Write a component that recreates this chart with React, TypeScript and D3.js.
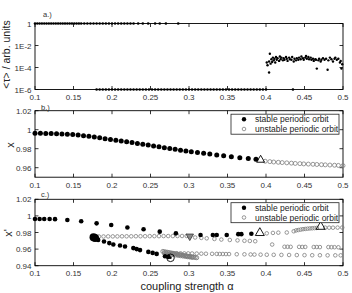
import * as d3 from "d3";

// coupling strength grid values
const alphaTicks = [0.1, 0.15, 0.2, 0.25, 0.3, 0.35, 0.4, 0.45, 0.5];
const alphaTickLabels = ["0.1", "0.15", "0.2", "0.25", "0.3", "0.35", "0.4", "0.45", "0.5"];

// panel a: mean tau, points pinned at 1 and at 1E-6, then the noisy part
const tauHighAlpha = [
  0.1, 0.103, 0.106, 0.109, 0.112, 0.115, 0.118, 0.121, 0.124, 0.127, 0.13, 0.133, 0.136, 0.139,
  0.142, 0.145, 0.148, 0.151, 0.154, 0.157, 0.16, 0.164, 0.168, 0.172, 0.176, 0.18, 0.184, 0.188,
  0.192, 0.196, 0.2, 0.204, 0.208, 0.212, 0.216, 0.22, 0.224, 0.228, 0.234, 0.24, 0.247, 0.256,
  0.262, 0.27, 0.286,
];
const tauLowAlpha = [
  0.18, 0.184, 0.188, 0.192, 0.196, 0.2, 0.204, 0.208, 0.212, 0.216, 0.22, 0.224, 0.228, 0.232,
  0.236, 0.24, 0.244, 0.248, 0.252, 0.256, 0.26, 0.264, 0.268, 0.272, 0.276, 0.28, 0.284, 0.288,
  0.292, 0.296, 0.3, 0.304, 0.308, 0.312, 0.316, 0.32, 0.324, 0.328, 0.332, 0.336, 0.34, 0.344,
  0.348, 0.352, 0.356, 0.36, 0.364, 0.368, 0.372, 0.376, 0.38, 0.384, 0.388, 0.392, 0.396, 0.4,
  0.435,
];
// [alpha, log10 <tau>]
const tauNoisy = [
  [0.401, -3.55], [0.402, -3.8], [0.404, -4.45], [0.405, -2.75], [0.404, -3.45], [0.406, -3.65],
  [0.407, -3.25], [0.408, -3.5], [0.409, -3.1], [0.41, -3.35], [0.411, -3.2], [0.412, -3.55],
  [0.413, -3.05], [0.414, -3.3], [0.415, -3.15], [0.417, -3.4], [0.418, -3.0], [0.419, -3.25],
  [0.42, -3.1], [0.422, -3.35], [0.423, -3.15], [0.424, -3.3], [0.426, -3.05], [0.427, -3.2],
  [0.428, -3.4], [0.43, -3.1], [0.431, -3.25], [0.433, -3.3], [0.434, -3.05], [0.436, -3.45],
  [0.437, -3.2], [0.439, -3.35], [0.44, -3.15], [0.442, -3.3], [0.443, -3.1], [0.445, -3.25],
  [0.446, -3.0], [0.448, -3.15], [0.449, -3.3], [0.451, -3.1], [0.452, -2.95], [0.453, -3.2],
  [0.455, -3.05], [0.456, -3.25], [0.458, -3.1], [0.459, -3.3], [0.461, -3.2], [0.462, -3.4],
  [0.464, -3.25], [0.465, -3.3], [0.466, -4.1], [0.468, -3.35], [0.469, -3.2], [0.471, -3.45],
  [0.472, -3.3], [0.474, -3.15], [0.476, -3.3], [0.478, -3.2], [0.48, -4.2], [0.481, -3.35],
  [0.483, -3.1], [0.485, -3.25], [0.487, -3.45], [0.489, -3.2], [0.49, -3.1], [0.492, -3.3],
  [0.494, -3.2], [0.496, -3.55], [0.497, -3.4], [0.498, -4.1], [0.499, -3.7],
];

// panel b: x along the periodic orbit
const bStableAlpha = [
  0.1, 0.107, 0.114, 0.121, 0.128, 0.135, 0.142, 0.149, 0.156, 0.163, 0.17, 0.177, 0.184, 0.191,
  0.198, 0.205, 0.212, 0.219, 0.226, 0.233, 0.24, 0.247, 0.254, 0.261, 0.268, 0.275, 0.282, 0.289,
  0.296, 0.303, 0.311, 0.319, 0.327, 0.336, 0.345, 0.355, 0.366, 0.377, 0.387,
];
const bStableX = [
  0.9963, 0.9962, 0.9961, 0.996, 0.9958, 0.9956, 0.9953, 0.9949, 0.9943, 0.9937, 0.993, 0.9923,
  0.9915, 0.9906, 0.9898, 0.989, 0.9882, 0.9874, 0.9865, 0.9856, 0.9847, 0.9838, 0.9829, 0.982,
  0.9811, 0.9802, 0.9793, 0.9784, 0.9776, 0.9768, 0.976, 0.9752, 0.9744, 0.9735, 0.9725, 0.9715,
  0.9705, 0.9697, 0.9688,
];
const bUnstableAlpha = [
  0.399, 0.405, 0.41, 0.416, 0.421, 0.427, 0.433, 0.438, 0.444, 0.449, 0.455, 0.461, 0.466, 0.472,
  0.477, 0.483, 0.489, 0.494, 0.5,
];
const bUnstableX = [
  0.9668, 0.9664, 0.966, 0.9657, 0.9654, 0.9651, 0.9648, 0.9645, 0.9643, 0.964, 0.9638, 0.9636,
  0.9634, 0.9632, 0.963, 0.9628, 0.9626, 0.9624, 0.9622,
];
const bBifurcation = [0.393, 0.9682];

// panel c: x' of the orbits, [alpha, x']
const cStable = [
  [0.1, 0.9963], [0.106, 0.9963], [0.112, 0.9962], [0.119, 0.9962], [0.126, 0.9961],
  [0.142, 0.9951], [0.16, 0.9935], [0.18, 0.991], [0.199, 0.989], [0.22, 0.986], [0.241, 0.9839],
  [0.262, 0.981], [0.283, 0.979], [0.315, 0.977], [0.331, 0.977], [0.336, 0.977], [0.349, 0.977],
  [0.364, 0.978], [0.368, 0.978], [0.381, 0.9785],
  [0.179, 0.9725], [0.182, 0.9711], [0.1896, 0.9691], [0.1965, 0.9672], [0.2017, 0.9655],
  [0.2104, 0.9643], [0.2169, 0.9631], [0.2277, 0.9612], [0.232, 0.96], [0.2364, 0.9588],
  [0.2472, 0.9566], [0.2528, 0.9554], [0.258, 0.9542], [0.2688, 0.9513], [0.2731, 0.9506],
];
const cStableLarge = [[0.176, 0.9742], [0.178, 0.9733]];
const cUnstable = [
  [0.183, 0.9752], [0.189, 0.9752], [0.195, 0.9753], [0.201, 0.9753], [0.207, 0.9753],
  [0.213, 0.9754], [0.219, 0.9754], [0.225, 0.9754], [0.231, 0.9755], [0.237, 0.9755],
  [0.243, 0.9755], [0.249, 0.9756], [0.255, 0.9756], [0.261, 0.9756], [0.267, 0.9757],
  [0.273, 0.9757], [0.279, 0.9757], [0.285, 0.9758], [0.291, 0.9758], [0.297, 0.9758],
  [0.308, 0.974], [0.316, 0.9735], [0.323, 0.973], [0.333, 0.9722], [0.342, 0.9715],
  [0.353, 0.971], [0.363, 0.9705], [0.372, 0.97], [0.379, 0.9698], [0.386, 0.9695],
  [0.408, 0.9655], [0.424, 0.9628], [0.428, 0.9628], [0.432, 0.9627], [0.443, 0.9627],
  [0.447, 0.9626], [0.451, 0.9626], [0.462, 0.9625], [0.466, 0.9625], [0.47, 0.9624],
  [0.481, 0.9624], [0.485, 0.9623], [0.489, 0.9623], [0.494, 0.9622],
  [0.401, 0.979], [0.409, 0.9795], [0.416, 0.9798], [0.427, 0.98], [0.436, 0.9815],
  [0.439, 0.9825], [0.442, 0.983], [0.445, 0.9835], [0.448, 0.984], [0.451, 0.9843],
  [0.454, 0.9846], [0.457, 0.9849], [0.46, 0.9851], [0.463, 0.9853], [0.466, 0.9855],
  [0.477, 0.9858], [0.482, 0.9858], [0.487, 0.9858], [0.493, 0.9859], [0.499, 0.986],
  [0.279, 0.955], [0.284, 0.955], [0.289, 0.9549], [0.294, 0.9548], [0.299, 0.9548],
  [0.304, 0.9547], [0.31, 0.9546], [0.316, 0.9545], [0.322, 0.9544], [0.33, 0.9543],
  [0.336, 0.9542], [0.34, 0.9541], [0.344, 0.9541], [0.348, 0.954], [0.352, 0.954],
  [0.362, 0.9538], [0.372, 0.9537], [0.38, 0.9535], [0.385, 0.9534], [0.393, 0.9533],
  [0.401, 0.9532], [0.41, 0.9531], [0.42, 0.953], [0.43, 0.9529], [0.44, 0.9528],
  [0.45, 0.9527], [0.46, 0.9526], [0.47, 0.9526], [0.48, 0.9525], [0.49, 0.9525], [0.497, 0.9525],
];
// dense grey band of unstable orbits near alpha = 0.27..0.31
const cUnstableBand = [
  [0.266, 0.9572], [0.268, 0.9568], [0.27, 0.9565], [0.272, 0.9562], [0.274, 0.9558],
  [0.276, 0.9555], [0.278, 0.9551], [0.28, 0.9548], [0.282, 0.9544], [0.284, 0.9541],
  [0.286, 0.9537], [0.288, 0.9534], [0.29, 0.953], [0.292, 0.9527], [0.294, 0.9523],
  [0.296, 0.952], [0.298, 0.9516], [0.3, 0.9513], [0.302, 0.951], [0.304, 0.9506],
  [0.306, 0.9503], [0.308, 0.9499], [0.31, 0.9496],
  [0.268, 0.9548], [0.271, 0.9544], [0.274, 0.954], [0.277, 0.9536], [0.28, 0.9532],
  [0.283, 0.9528], [0.286, 0.9524], [0.289, 0.952], [0.292, 0.9516], [0.295, 0.9512],
  [0.298, 0.9508], [0.301, 0.9504], [0.304, 0.95],
];
const cOpenTriangles = [[0.392, 0.9795], [0.471, 0.987]];
const cGreyTriangle = [0.301, 0.9755];
const cRing = [0.276, 0.9495];

const bTicks = [1.02, 1, 0.98, 0.96];
const bTickLabels = ["1.02", "1", "0.98", "0.96"];
const cTicks = [1.02, 1, 0.98, 0.96, 0.94];
const cTickLabels = ["1.02", "1", "0.98", "0.96", "0.94"];
const aTicks = [1, 1e-2, 1e-4, 1e-6];
const aTickLabels = ["1", "1E-2", "1E-4", "1E-6"];

const legendLabels = ["stable periodic orbit", "unstable periodic orbit"];

const FONT = "'Liberation Sans', Arial, Helvetica, sans-serif";
const GREY = "#7d7d7d";
const left = 35;
const right = 343;

const x = d3.scaleLinear().domain([0.1, 0.5]).range([left, right]);

type Scale = (v: number) => number;

function Frame({ y, top, bottom, ticks, labels, xLabelY }: {
  y: Scale; top: number; bottom: number; ticks: number[]; labels: string[]; xLabelY: number;
}) {
  const t = 3.5;
  return (
    <g>
      <rect x={left} y={top} width={right - left} height={bottom - top} fill="none" stroke="#000" strokeWidth={0.9} />
      {alphaTicks.map((a, i) => (
        <g key={"x" + i}>
          <line x1={x(a)} x2={x(a)} y1={bottom} y2={bottom - t} stroke="#000" strokeWidth={0.8} />
          <line x1={x(a)} x2={x(a)} y1={top} y2={top + t} stroke="#000" strokeWidth={0.8} />
          <text x={x(a)} y={xLabelY} textAnchor="middle" fontSize={8} fill="#333">{alphaTickLabels[i]}</text>
        </g>
      ))}
      {ticks.map((v, i) => (
        <g key={"y" + i}>
          <line x1={left} x2={left + t} y1={y(v)} y2={y(v)} stroke="#000" strokeWidth={0.8} />
          <line x1={right} x2={right - t} y1={y(v)} y2={y(v)} stroke="#000" strokeWidth={0.8} />
          <text x={31.5} y={y(v) + 3} textAnchor="end" fontSize={8} fill="#333">{labels[i]}</text>
        </g>
      ))}
    </g>
  );
}

function Legend({ top }: { top: number }) {
  return (
    <g>
      <rect x={231} y={top} width={108} height={20} fill="#fff" stroke="#222" strokeWidth={0.8} />
      <circle cx={244} cy={top + 5} r={2.2} fill="#000" />
      <circle cx={244} cy={top + 14.8} r={1.8} fill="none" stroke={GREY} strokeWidth={0.8} />
      <text x={255} y={top + 8} fontSize={8.5} fill="#222">{legendLabels[0]}</text>
      <text x={255} y={top + 17.8} fontSize={8.5} fill="#222">{legendLabels[1]}</text>
    </g>
  );
}

function triangle(cx: number, cy: number, s: number, down = false) {
  const h = s * 0.87;
  const d = down ? -1 : 1;
  return `M${cx},${cy - (d * h * 2) / 3}L${cx + s / 2},${cy + (d * h) / 3}L${cx - s / 2},${cy + (d * h) / 3}Z`;
}

export default function App() {
  const yA = d3.scaleLog().domain([1e-6, 1]).range([89.5, 23.5]);
  const yB = d3.scaleLinear().domain([0.95, 1.02]).range([177.2, 110.7]);
  const yC = d3.scaleLinear().domain([0.94, 1.02]).range([265.7, 199.3]);

  return (
    <svg width={352} height={293} style={{ position: "absolute", left: 0, top: 0, background: "#fff" }} fontFamily={FONT}>
      {/* a.) mean tau */}
      <Frame y={yA} top={23.5} bottom={89.5} ticks={aTicks} labels={aTickLabels} xLabelY={99.5} />
      {tauHighAlpha.map((a, i) => (
        <circle key={"h" + i} cx={x(a)} cy={yA(1)} r={1.3} fill="#000" />
      ))}
      {tauLowAlpha.map((a, i) => (
        <circle key={"l" + i} cx={x(a)} cy={yA(1e-6)} r={1.3} fill="#000" />
      ))}
      {tauNoisy.map(([a, e], i) => (
        <circle key={"n" + i} cx={x(a)} cy={yA(Math.pow(10, e))} r={1.2} fill="#000" />
      ))}
      <text x={43} y={16.5} fontSize={7.5} fill="#333">a.)</text>
      <text transform="translate(10,54.5) rotate(-90)" textAnchor="middle" fontSize={10.5} fill="#222">
        {"<τ> / arb. units"}
      </text>

      {/* b.) x */}
      <Frame y={yB} top={110.7} bottom={177.2} ticks={bTicks} labels={bTickLabels} xLabelY={188} />
      {bStableAlpha.map((a, i) => (
        <circle key={"bs" + i} cx={x(a)} cy={yB(bStableX[i])} r={2.5} fill="#000" />
      ))}
      {bUnstableAlpha.map((a, i) => (
        <circle key={"bu" + i} cx={x(a)} cy={yB(bUnstableX[i])} r={2} fill="none" stroke={GREY} strokeWidth={0.8} />
      ))}
      <path d={triangle(x(bBifurcation[0]), yB(bBifurcation[1]), 8)} fill="none" stroke="#000" strokeWidth={0.9} />
      <Legend top={114.2} />
      <text x={41} y={109.5} fontSize={7.5} fill="#333">b.)</text>
      <text transform="translate(13.5,145) rotate(-90)" textAnchor="middle" fontSize={11} fill="#222">x</text>

      {/* c.) x' */}
      <Frame y={yC} top={199.3} bottom={265.7} ticks={cTicks} labels={cTickLabels} xLabelY={276} />
      {cUnstableBand.map(([a, v], i) => (
        <circle key={"cb" + i} cx={x(a)} cy={yC(v)} r={2} fill="none" stroke={GREY} strokeWidth={0.9} />
      ))}
      {cUnstable.map(([a, v], i) => (
        <circle key={"cu" + i} cx={x(a)} cy={yC(v)} r={1.8} fill="none" stroke={GREY} strokeWidth={0.8} />
      ))}
      {cStable.map(([a, v], i) => (
        <circle key={"cs" + i} cx={x(a)} cy={yC(v)} r={2.3} fill="#000" />
      ))}
      {cStableLarge.map(([a, v], i) => (
        <circle key={"cl" + i} cx={x(a)} cy={yC(v)} r={4} fill="#000" />
      ))}
      <circle cx={x(cRing[0])} cy={yC(cRing[1])} r={3.8} fill="none" stroke="#000" strokeWidth={0.9} />
      <circle cx={x(cRing[0])} cy={yC(cRing[1])} r={1.2} fill="#000" />
      <path d={triangle(x(cGreyTriangle[0]), yC(cGreyTriangle[1]), 7.5, true)} fill="#8a8a8a" stroke="#333" strokeWidth={0.8} />
      {cOpenTriangles.map(([a, v], i) => (
        <path key={"ct" + i} d={triangle(x(a), yC(v), 9)} fill="none" stroke="#000" strokeWidth={0.9} />
      ))}
      <Legend top={202.7} />
      <text x={41} y={197} fontSize={7.5} fill="#333">c.)</text>
      <text transform="translate(12,233) rotate(-90)" textAnchor="middle" fontSize={11} fill="#222">x'</text>

      <text x={187} y={290} textAnchor="middle" fontSize={11} fill="#222">coupling strength α</text>
    </svg>
  );
}
